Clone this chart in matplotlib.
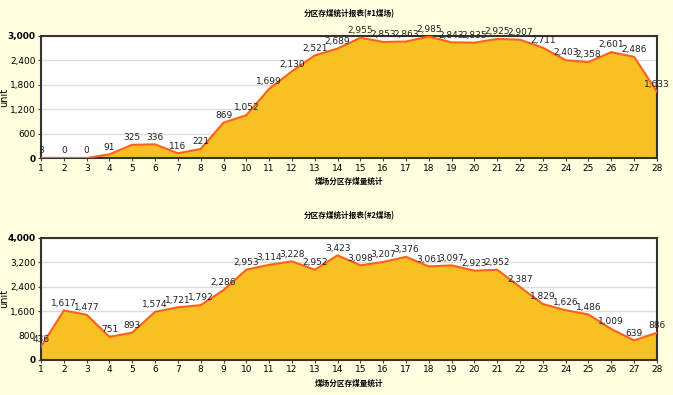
import matplotlib
matplotlib.use('Agg')
import matplotlib.pyplot as plt

plt.rcParams['font.family'] = ['DejaVu Sans', 'Noto Sans CJK SC']

# data
zones = list(range(1, 29))
yard1 = [3, 0, 0, 91, 325, 336, 116, 221, 869, 1052, 1699, 2130, 2521, 2689,
         2955, 2853, 2863, 2985, 2843, 2835, 2925, 2907, 2711, 2403, 2358,
         2601, 2486, 1633]
yard2 = [436, 1617, 1477, 751, 893, 1574, 1721, 1792, 2286, 2953, 3114, 3228,
         2952, 3423, 3098, 3207, 3376, 3061, 3097, 2923, 2952, 2387, 1829,
         1626, 1486, 1009, 639, 886]
titles = ['分区存煤统计报表(#1煤场)', '分区存煤统计报表(#2煤场)']
xlabel = '煤场分区存煤量统计'
ylims = [3000, 4000]
ysteps = [600, 800]

bg = '#FFFFE0'
fill = '#F7C124'
line = '#FF6119'
cjk = ['Noto Sans CJK SC', 'DejaVu Sans']

fig = plt.figure(figsize=(6.73, 3.95), dpi=100, facecolor=bg)
boxes = [[0.061, 0.600, 0.915, 0.309], [0.061, 0.089, 0.915, 0.309]]

for box, vals, title, ymax, step in zip(boxes, [yard1, yard2], titles, ylims, ysteps):
    ax = fig.add_axes(box)
    ax.set_facecolor('white')
    ax.fill_between(zones, vals, 0, color=fill, zorder=2)
    ax.plot(zones, vals, color=line, linewidth=1.5, zorder=3)
    for x, v in zip(zones, vals):
        ax.annotate(f'{v:,}', (x, v), xytext=(0, 2), textcoords='offset points',
                    ha='center', va='bottom', fontsize=6.5, color='#222222', zorder=4)
    ax.set_xlim(1, 28)
    ax.set_ylim(0, ymax)
    ticks = list(range(0, ymax + 1, step))
    ax.set_yticks(ticks)
    ax.set_yticklabels([f'{t:,}' for t in ticks], fontsize=6.5)
    for lbl in (ax.get_yticklabels()[0], ax.get_yticklabels()[-1]):
        lbl.set_fontweight('bold')
    ax.set_xticks(zones)
    ax.set_xticklabels([str(z) for z in zones], fontsize=6.5)
    ax.tick_params(length=2, pad=2, color='#444444')
    ax.yaxis.grid(True, color='#DDDDDD', linewidth=1, zorder=1)
    ax.set_axisbelow(True)
    for s in ax.spines.values():
        s.set_color('#333333')
        s.set_linewidth(1.5)
    ax.set_ylabel('unit', fontsize=7)
    ax.yaxis.set_label_coords(-0.052, 0.5)
    ax.set_xlabel(xlabel, fontsize=5.5, fontweight='bold', family=cjk, labelpad=3)
    ax.set_title(title, fontsize=5.5, fontweight='bold', family=cjk, pad=14)

fig.savefig('out.png', dpi=100, facecolor=bg)
